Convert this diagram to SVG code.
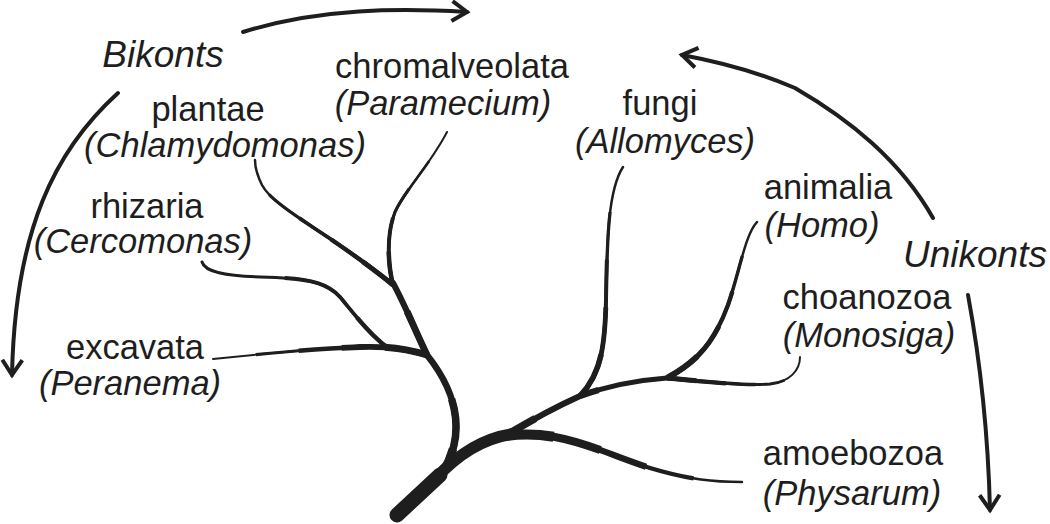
<svg xmlns="http://www.w3.org/2000/svg" width="1050" height="524" viewBox="0 0 1050 524">
<defs>
<style>
.t{font-family:"Liberation Sans",Arial,sans-serif;font-size:34.5px;fill:#1e1e1e;text-anchor:middle}
.i{font-style:italic}
.big{font-size:37px}
.br{fill:none;stroke:#1e1e1e;stroke-linejoin:round}
.br use{stroke-linecap:butt}
.ar{fill:none;stroke:#1e1e1e;stroke-width:4;stroke-linecap:round}
.l1{stroke-dasharray:80 200}
.l2{stroke-dasharray:60 200}
.l3{stroke-dasharray:40 200}
.l4{stroke-dasharray:20 200}
</style>
<marker id="chev" viewBox="-20 -12 24 24" markerWidth="24" markerHeight="24" refX="0" refY="0" orient="auto" markerUnits="userSpaceOnUse" overflow="visible">
<path d="M-15,-10 L0,0 L-15,10" fill="none" stroke="#1e1e1e" stroke-width="4"/>
</marker>
<path id="pA" pathLength="100" d="M505,436 C560,428 600,452 650,468 C690,480 715,482 742,482"/>
<path id="pU" pathLength="100" d="M505,436 C540,415 560,405 580,396 C610,385 640,380 667,378"/>
<path id="pF" pathLength="100" d="M580,396 C600,375 605,350 606,300 C607,240 608,190 623,167"/>
<path id="pAn" pathLength="100" d="M667,378 C700,360 715,340 728,305 C740,270 745,235 757,222"/>
<path id="pCh" pathLength="100" d="M667,378 C710,382 740,386 770,384 C790,382 800,370 800,357"/>
<path id="pBs" pathLength="100" d="M443,472 C462,440 463,400 427,355"/>
<path id="pS2" pathLength="100" d="M427,355 C415,330 405,305 393,283"/>
<path id="pCr" pathLength="100" d="M393,285 C388,265 386,235 395,212 C405,190 430,165 447,132"/>
<path id="pPl" pathLength="100" d="M393,285 C375,270 340,245 317,230 C295,215 270,200 262,185 C257,175 255,168 255,160"/>
<path id="pEx" pathLength="100" d="M427,355 C405,348 385,346 360,347 C310,349 260,354 213,359"/>
<path id="pRh" pathLength="100" d="M388,348 C370,335 355,315 340,297 C325,280 300,278 260,277 C225,276 205,272 202,262"/>
</defs>
<rect width="1050" height="524" fill="#fff"/>

<g id="connectors">
<g class="br">
<path stroke-width="15" stroke-linecap="round" d="M397,515 L440,475"/>
<path stroke-width="11.5" stroke-linecap="round" d="M436,478 C460,452 485,438 512,434"/>
<!-- amoebozoa 2.5 -> 10 -->
<use href="#pA" stroke-width="2.5" style="stroke-linecap:round"/>
<use href="#pA" class="l1" stroke-width="4.4"/>
<use href="#pA" class="l2" stroke-width="6.2"/>
<use href="#pA" class="l3" stroke-width="8.1"/>
<use href="#pA" class="l4" stroke-width="10"/>
<!-- unikont upper 5 -> 7.5 -->
<use href="#pU" stroke-width="5" style="stroke-linecap:round"/>
<use href="#pU" class="l2" stroke-width="6.2"/>
<use href="#pU" class="l4" stroke-width="7.5"/>
<!-- fungi 2.5 -> 5.5 -->
<use href="#pF" stroke-width="2.5" style="stroke-linecap:round"/>
<use href="#pF" class="l1" stroke-width="3.3"/>
<use href="#pF" class="l2" stroke-width="4"/>
<use href="#pF" class="l3" stroke-width="4.8"/>
<use href="#pF" class="l4" stroke-width="5.5"/>
<!-- animalia 2.5 -> 6 -->
<use href="#pAn" stroke-width="2.5" style="stroke-linecap:round"/>
<use href="#pAn" class="l1" stroke-width="3.4"/>
<use href="#pAn" class="l2" stroke-width="4.3"/>
<use href="#pAn" class="l3" stroke-width="5.1"/>
<use href="#pAn" class="l4" stroke-width="6"/>
<!-- choanozoa 2 -> 5 -->
<use href="#pCh" stroke-width="2" style="stroke-linecap:round"/>
<use href="#pCh" class="l1" stroke-width="2.8"/>
<use href="#pCh" class="l2" stroke-width="3.5"/>
<use href="#pCh" class="l3" stroke-width="4.3"/>
<use href="#pCh" class="l4" stroke-width="5"/>
<!-- bikont stem -->
<use href="#pBs" stroke-width="6.5" style="stroke-linecap:round"/>
<use href="#pBs" class="l2" stroke-width="7.5"/>
<use href="#pBs" class="l4" stroke-width="8.5"/>
<use href="#pS2" stroke-width="6" style="stroke-linecap:round"/>
<use href="#pS2" class="l2" stroke-width="6.8"/>
<!-- chromalveolata 2 -> 4.5 -->
<use href="#pCr" stroke-width="2" style="stroke-linecap:round"/>
<use href="#pCr" class="l1" stroke-width="2.6"/>
<use href="#pCr" class="l2" stroke-width="3.2"/>
<use href="#pCr" class="l3" stroke-width="3.9"/>
<use href="#pCr" class="l4" stroke-width="4.5"/>
<!-- plantae 2.5 -> 5 -->
<use href="#pPl" stroke-width="2.5" style="stroke-linecap:round"/>
<use href="#pPl" class="l1" stroke-width="3.1"/>
<use href="#pPl" class="l2" stroke-width="3.8"/>
<use href="#pPl" class="l3" stroke-width="4.4"/>
<use href="#pPl" class="l4" stroke-width="5"/>
<!-- excavata 2 -> 7 -->
<use href="#pEx" stroke-width="2" style="stroke-linecap:round"/>
<use href="#pEx" class="l1" stroke-width="3.2"/>
<use href="#pEx" class="l2" stroke-width="4.5"/>
<use href="#pEx" class="l3" stroke-width="5.8"/>
<use href="#pEx" class="l4" stroke-width="7"/>
<!-- rhizaria 3 -> 4.5 -->
<use href="#pRh" stroke-width="3" style="stroke-linecap:round"/>
<use href="#pRh" class="l2" stroke-width="3.8"/>
<use href="#pRh" class="l4" stroke-width="4.5"/>
</g>
<!-- arrows -->
<path class="ar" marker-end="url(#chev)" d="M243,32 C320,8 400,8 467,12"/>
<path class="ar" marker-end="url(#chev)" d="M118,93 C55,150 15,230 12,375"/>
<path class="ar" marker-end="url(#chev)" d="M933,218 C900,160 850,120 795,88 C760,73 720,62 682,55"/>
<path class="ar" marker-end="url(#chev)" d="M968,295 C980,360 988,430 990,510"/>
</g>

<g id="bikonts"><text class="t i big" x="163" y="67">Bikonts</text></g>
<g id="unikonts"><text class="t i big" x="975" y="267">Unikonts</text></g>
<g id="chromalveolata"><text class="t" x="452" y="78">chromalveolata</text><text class="t i" x="443" y="115">(Paramecium)</text></g>
<g id="plantae"><text class="t" x="208" y="121">plantae</text><text class="t i" x="225" y="157">(Chlamydomonas)</text></g>
<g id="rhizaria"><text class="t" x="147" y="218">rhizaria</text><text class="t i" x="143" y="253">(Cercomonas)</text></g>
<g id="excavata"><text class="t" x="135" y="359">excavata</text><text class="t i" x="130" y="395">(Peranema)</text></g>
<g id="fungi"><text class="t" x="660" y="115">fungi</text><text class="t i" x="665" y="153">(Allomyces)</text></g>
<g id="animalia"><text class="t" x="828" y="199">animalia</text><text class="t i" x="822" y="237">(Homo)</text></g>
<g id="choanozoa"><text class="t" x="867" y="309">choanozoa</text><text class="t i" x="869" y="347">(Monosiga)</text></g>
<g id="amoebozoa"><text class="t" x="853" y="465">amoebozoa</text><text class="t i" x="852" y="505">(Physarum)</text></g>
</svg>
